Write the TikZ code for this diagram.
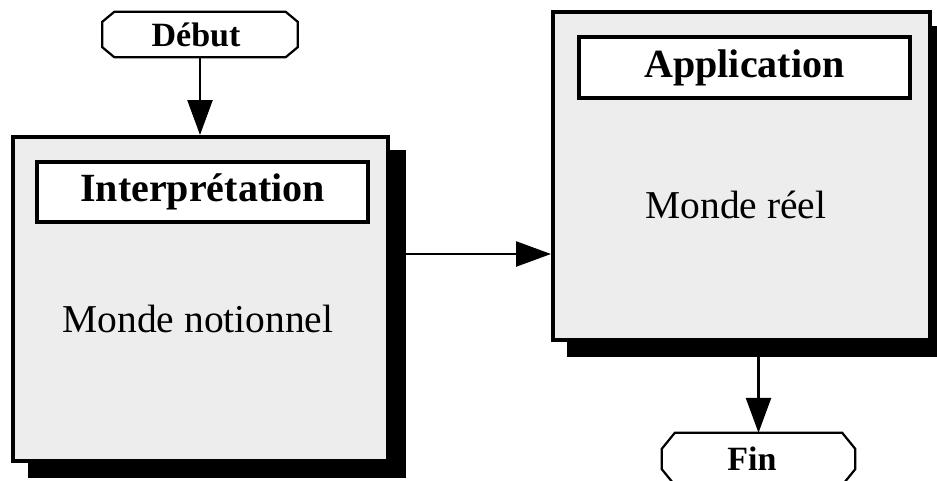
\documentclass[tikz,border=0pt]{standalone}
\usepackage{fontspec}
\setmainfont{Liberation Serif}
\usetikzlibrary{arrows.meta}

% chamfered terminal outline around a named node: #1 node, #2 corner width, #3 corner height
\newcommand\drawterm[3]{%
  \draw[termline]
    ([xshift=#2]#1.north west) -- ([xshift=-#2]#1.north east)
    -- ([yshift=-#3]#1.north east) -- ([yshift=#3]#1.south east)
    -- ([xshift=-#2]#1.south east) -- ([xshift=#2]#1.south west)
    -- ([yshift=#3]#1.south west) -- ([yshift=-#3]#1.north west) -- cycle;}

\tikzset{
  termline/.style={line width=2.2pt, fill=white},
  termtext/.style={inner sep=0pt, font=\bfseries\fontsize{34}{38}\selectfont},
  shadowbox/.style={fill=black, draw=none, inner sep=0pt},
  worldbox/.style={draw=black, line width=4pt, fill=black!7, inner sep=0pt},
  titlebox/.style={draw=black, line width=4pt, fill=white, inner sep=0pt,
    font=\bfseries\fontsize{40}{46}\selectfont},
  bodytext/.style={inner sep=0pt, anchor=base, font=\fontsize{39.5}{46}\selectfont},
  flow/.style={line width=2.5pt, -{Triangle[length=35pt, width=25pt]}}
}

\begin{document}
\begin{tikzpicture}[x=1pt, y=-1pt]
  \useasboundingbox (0,0) rectangle (937,480);
  \clip (0,0) rectangle (937,480);

  % start terminal
  \node[termtext, minimum width=195pt, minimum height=45pt] (debut) at (200,34.5) {};
  \drawterm{debut}{12pt}{10pt}
  \node[termtext] (debuttxt) at (196,34.5) {Début};

  % notional world
  \node[shadowbox, minimum width=378pt, minimum height=328pt] (lshadow) at (217,314) {};
  \node[worldbox, minimum width=375pt, minimum height=324pt] (lbox) at (200.5,299) {};
  \node[titlebox, minimum width=331pt, minimum height=60pt] (ltitle) at (202.5,192) {Interprétation};
  \node[bodytext] (lbody) at (198,332) {Monde notionnel};

  % real world
  \node[shadowbox, minimum width=379pt, minimum height=331pt] (rshadow) at (756.5,191.5) {};
  \node[worldbox, minimum width=377pt, minimum height=328pt] (rbox) at (741.5,176) {};
  \node[titlebox, minimum width=331pt, minimum height=61pt] (rtitle) at (744.5,67.5) {Application};
  \node[bodytext] (rbody) at (736,218) {Monde réel};

  % end terminal
  \node[termtext, minimum width=193pt, minimum height=52pt] (fin) at (758.5,459) {};
  \drawterm{fin}{13pt}{16pt}
  \node[termtext] (fintxt) at (752,459) {Fin};

  % connectors
  \draw[flow] (debut.south) -- (debut.south |- lbox.north);
  \coordinate (hstart) at (406,254);
  \draw[flow] (hstart) -- (hstart -| rbox.west);
  \draw[flow] (rshadow.south -| fin.north) -- (fin.north);
\end{tikzpicture}
\end{document}
